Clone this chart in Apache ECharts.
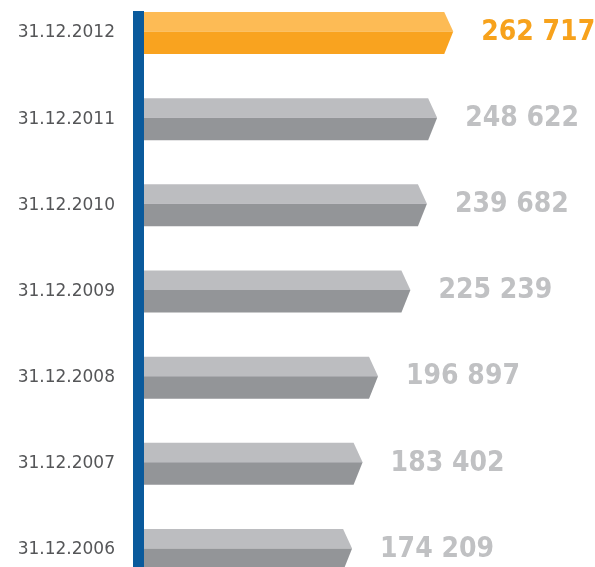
<!DOCTYPE html>
<html>
<head>
<meta charset="utf-8">
<script src="https://cdn.jsdelivr.net/npm/echarts@6/dist/echarts.min.js"></script>
<style>
  html, body { margin: 0; padding: 0; background: #fff; }
  #main { width: 595px; height: 567px; }
</style>
</head>
<body>
<div id="main"></div>
<script>
var dates = ['31.12.2006', '31.12.2007', '31.12.2008', '31.12.2009', '31.12.2010', '31.12.2011', '31.12.2012'];
var values = [174209, 183402, 196897, 225239, 239682, 248622, 262717];

var myChart = echarts.init(document.getElementById('main'));

function fmt(v) {
    return String(v).replace(/\B(?=(\d{3})+(?!\d))/g, ' ');
}

// arrow-shaped two-tone bar plus value label
function renderBar(params, api) {
    var v = api.value(0);
    var cat = api.value(1);
    var start = api.coord([0, cat]);
    var end = api.coord([v, cat]);
    var cy = end[1];
    var top = cy - 21, split = cy - 1.5, bottom = cy + 21;
    var x0 = start[0], xf = end[0], tip = xf + 9;
    var last = params.dataIndex === values.length - 1;
    var light = last ? '#fdbb55' : '#bcbdc0';
    var dark = last ? '#f9a31f' : '#939598';
    var txt = last ? '#f7a21c' : '#c0c1c3';
    return {
        type: 'group',
        children: [
            {
                type: 'polygon',
                shape: { points: [[x0, top], [xf, top], [tip, split], [x0, split]] },
                style: { fill: light }
            },
            {
                type: 'polygon',
                shape: { points: [[x0, split], [tip, split], [xf, bottom], [x0, bottom]] },
                style: { fill: dark }
            },
            {
                type: 'text',
                style: {
                    text: fmt(v),
                    x: tip + 28,
                    y: cy - 0.5,
                    fill: txt,
                    fontSize: 28,
                    fontWeight: 'bold',
                    fontFamily: 'DejaVu Sans Condensed',
                    verticalAlign: 'middle',
                    align: 'left'
                }
            }
        ]
    };
}

myChart.setOption({
    animation: false,
    grid: {
        left: 144,
        right: 51,
        top: 33,
        bottom: 17
    },
    xAxis: {
        type: 'value',
        min: 0,
        max: 350000,
        show: false
    },
    yAxis: {
        type: 'category',
        data: dates,
        boundaryGap: false,
        axisLine: { show: false },
        axisTick: { show: false },
        splitLine: { show: false },
        axisLabel: {
            margin: 29,
            color: '#555658',
            fontSize: 17,
            fontFamily: 'DejaVu Sans'
        }
    },
    graphic: [{
        type: 'rect',
        shape: { x: 133, y: 11, width: 11, height: 560 },
        style: { fill: '#0a5a9c' },
        z: 10
    }],
    series: [{
        type: 'custom',
        renderItem: renderBar,
        data: values.map(function (v, i) { return [v, i]; }),
        encode: { x: 0, y: 1 }
    }]
});
</script>
</body>
</html>
